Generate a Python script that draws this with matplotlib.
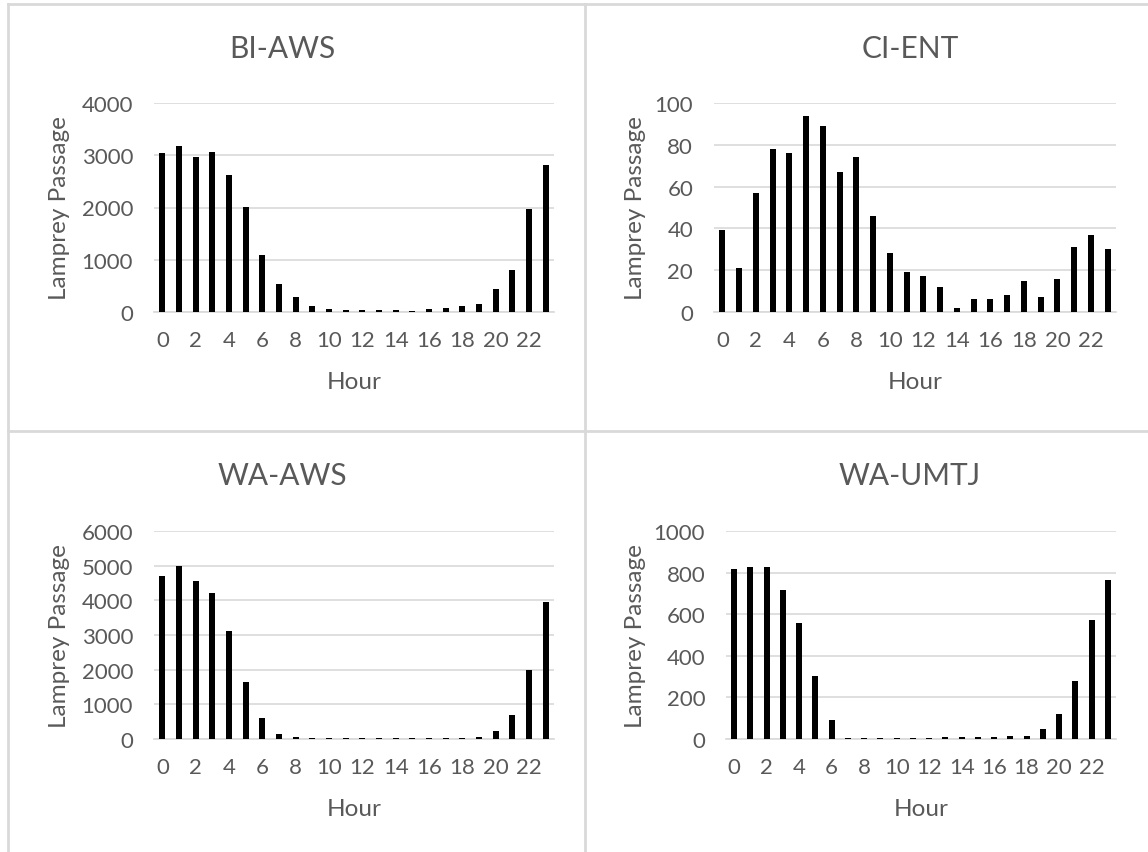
import matplotlib
matplotlib.use("Agg")
import matplotlib.pyplot as plt
import numpy as np

hours = list(range(24))
hour_ticks = list(range(0, 24, 2))

bi_aws = [3050, 3180, 2970, 3070, 2620, 2010, 1090, 540, 280, 110, 50, 40,
          30, 30, 30, 20, 50, 70, 120, 160, 440, 810, 1970, 2820]
ci_ent = [39, 21, 57, 78, 76, 94, 89, 67, 74, 46, 28, 19,
          17, 12, 2, 6, 6, 8, 15, 7, 16, 31, 37, 30]
wa_aws = [4700, 5000, 4570, 4200, 3110, 1640, 620, 150, 50, 30, 20, 15,
          15, 15, 20, 20, 20, 30, 30, 70, 230, 700, 2000, 3960]
wa_umtj = [815, 828, 828, 718, 558, 305, 90, 5, 7, 3, 5, 5,
           6, 12, 10, 10, 12, 14, 15, 47, 122, 278, 570, 766]

titles = ["BI-AWS", "CI-ENT", "WA-AWS", "WA-UMTJ"]
series = [bi_aws, ci_ent, wa_aws, wa_umtj]
y_max = [4000, 100, 6000, 1000]
y_step = [1000, 20, 1000, 200]

plt.rcParams["font.family"] = ["Lato", "DejaVu Sans"]
txt_color = "#595959"
grid_color = "#D9D9D9"

W, H = 1148, 853
fig = plt.figure(figsize=(W / 100, H / 100), dpi=100)

# pixel boxes for each plot area: (left, right, top, bottom)
boxes = [(154, 554, 104, 313), (714, 1116, 104, 313),
         (154, 554, 532, 740), (726, 1116, 532, 740)]
title_x = [282, 910, 282, 910]
ylabel_x = [60, 635, 60, 635]
panel_top = [5, 5, 432, 432]

for i in range(4):
    l, r, t, b = boxes[i]
    ax = fig.add_axes([l / W, 1 - b / H, (r - l) / W, (b - t) / H])
    ax.bar(hours, series[i], width=0.36, color="black", zorder=3)
    ax.set_xlim(-0.5, 23.5)
    ax.set_ylim(0, y_max[i])
    ax.set_yticks(np.arange(0, y_max[i] + 1, y_step[i]))
    ax.set_xticks(hour_ticks)
    ax.grid(axis="y", color=grid_color, linewidth=1.2, zorder=0)
    for s in ["top", "right", "left"]:
        ax.spines[s].set_visible(False)
    ax.spines["bottom"].set_color(grid_color)
    ax.spines["bottom"].set_linewidth(1.2)
    ax.tick_params(axis="both", length=0, labelsize=16, colors=txt_color)
    ax.tick_params(axis="y", pad=15)
    ax.tick_params(axis="x", pad=13)

    fig.text(title_x[i] / W, 1 - (panel_top[i] + 44) / H, titles[i],
             ha="center", va="center", fontsize=21.5, color=txt_color)
    fig.text((l + r) / 2 / W, 1 - (b + 70) / H, "Hour",
             ha="center", va="center", fontsize=17.5, color=txt_color)
    fig.text(ylabel_x[i] / W, 1 - (t + b) / 2 / H, "Lamprey Passage",
             ha="center", va="center", rotation=90, fontsize=17.5, color=txt_color)

# chart borders
border = dict(color=grid_color, linewidth=2)
fig.add_artist(plt.Line2D([8 / W, 8 / W], [0, 1 - 5 / H], **border))
fig.add_artist(plt.Line2D([585 / W, 585 / W], [0, 1 - 5 / H], **border))
fig.add_artist(plt.Line2D([8 / W, 1], [1 - 5 / H, 1 - 5 / H], **border))
fig.add_artist(plt.Line2D([8 / W, 1], [1 - 432 / H, 1 - 432 / H], **border))

plt.savefig("out.png", dpi=100)
